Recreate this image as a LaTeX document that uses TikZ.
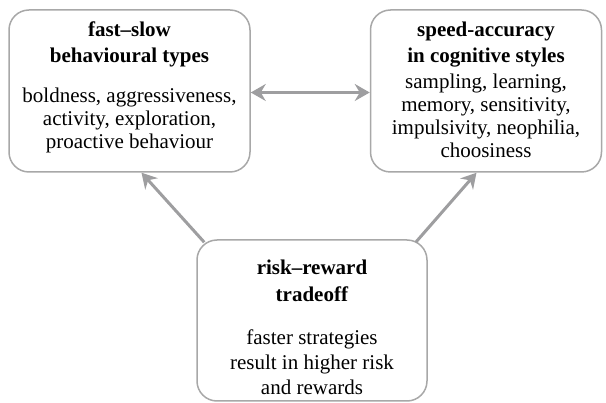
\documentclass[tikz,border=0pt]{standalone}
\usepackage{fontspec}
\setmainfont{Liberation Serif}
\usetikzlibrary{arrows.meta}
\definecolor{boxgray}{RGB}{168,168,168}
\definecolor{arrowgray}{RGB}{158,158,160}
% text block, first baseline raised #1 above the box centre
\newcommand{\traittext}[2]{\raisebox{#1}[0pt][0pt]{\begin{tabular}[t]{@{}c@{}}#2\end{tabular}}}
\tikzset{
  >={Stealth[length=15pt, width=17pt, inset=5pt]},
  trait/.style={draw=boxgray, line width=1.5pt, rounded corners=20pt, fill=white,
    inner sep=0pt, font=\fontsize{21}{23}\selectfont},
  link/.style={arrowgray, line width=3pt, ->}
}
\begin{document}
\begin{tikzpicture}[x=1pt, y=-1pt]
\useasboundingbox (0,0) rectangle (606,403);
\node[trait, minimum width=241pt, minimum height=162pt] (FS) at (129.5, 91)
  {\traittext{54pt}{\textbf{fast--slow}\\[3pt] \textbf{behavioural types}\\[17pt]
   boldness, aggressiveness,\\ activity, exploration,\\ proactive behaviour}};
\node[trait, minimum width=231pt, minimum height=162pt] (SA) at (486, 91)
  {\traittext{54pt}{\textbf{speed-accuracy}\\[3pt] \textbf{in cognitive styles}\\[3pt]
   sampling, learning,\\ memory, sensitivity,\\ impulsivity, neophilia,\\ choosiness}};
\node[trait, minimum width=230pt, minimum height=161pt,
      font=\fontsize{21}{25}\selectfont] (RR) at (312, 320.5)
  {\traittext{45.5pt}{\textbf{risk--reward}\\[2pt] \textbf{tradeoff}\\[18pt]
   faster strategies\\ result in higher risk\\ and rewards}};
\draw[link, <->] ([yshift=-1.5pt]FS.east) -- ([yshift=-1.5pt]SA.west);
\draw[link] ([shift={(8,3)}]RR.north west) -- ([xshift=12pt]FS.south);
\draw[link] ([shift={(-12,3)}]RR.north east) -- ([xshift=-9.5pt]SA.south);
\end{tikzpicture}
\end{document}
